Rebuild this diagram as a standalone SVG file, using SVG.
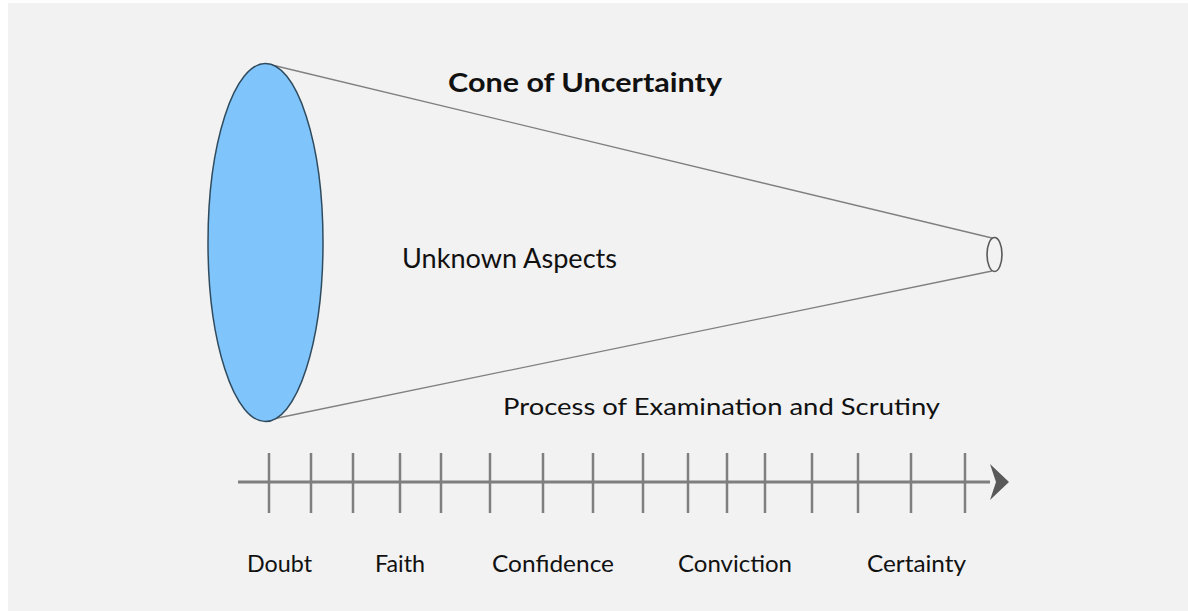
<svg xmlns="http://www.w3.org/2000/svg" width="1188" height="611" viewBox="0 0 1188 611">
  <style>
    .lbl { font-family: Lato, "Liberation Sans", sans-serif; fill: #111111; }
    .cone { stroke: #7f7f7f; stroke-width: 1.3; fill: none; }
    .tick { stroke: #7f7f7f; stroke-width: 2.5; }
  </style>
  <rect x="0" y="0" width="1188" height="611" fill="#ffffff"/>
  <rect x="8" y="3" width="1180" height="608" fill="#f2f2f2"/>

  <g id="connectors">
    <line class="cone" x1="272" y1="65" x2="992" y2="238"/>
    <line class="cone" x1="268" y1="420" x2="992" y2="271"/>
  </g>

  <g id="cone-base">
    <ellipse cx="265.5" cy="242.5" rx="57.5" ry="179" fill="#80c4fc" stroke="#2f4b5e" stroke-width="1.5"/>
  </g>
  <g id="cone-tip">
    <ellipse cx="994.5" cy="254.5" rx="7.5" ry="17" fill="#f2f2f2" stroke="#595959" stroke-width="1.6"/>
  </g>

  <g id="title">
    <text class="lbl" x="448" y="92" font-size="26.5" font-weight="bold" textLength="274" lengthAdjust="spacingAndGlyphs">Cone of Uncertainty</text>
  </g>
  <g id="unknown">
    <text class="lbl" x="402" y="268" font-size="27" textLength="215" lengthAdjust="spacingAndGlyphs">Unknown Aspects</text>
  </g>
  <g id="process">
    <text class="lbl" x="503" y="415" font-size="24" textLength="437" lengthAdjust="spacingAndGlyphs">Process of Examination and Scrutiny</text>
  </g>

  <g id="axis">
    <line x1="238" y1="482" x2="990" y2="482" stroke="#7f7f7f" stroke-width="3"/>
    <g class="tick">
      <line x1="269" y1="453" x2="269" y2="513"/>
      <line x1="311" y1="453" x2="311" y2="513"/>
      <line x1="353" y1="453" x2="353" y2="513"/>
      <line x1="400" y1="453" x2="400" y2="513"/>
      <line x1="441" y1="453" x2="441" y2="513"/>
      <line x1="490" y1="453" x2="490" y2="513"/>
      <line x1="543" y1="453" x2="543" y2="513"/>
      <line x1="593" y1="453" x2="593" y2="513"/>
      <line x1="643" y1="453" x2="643" y2="513"/>
      <line x1="688" y1="453" x2="688" y2="513"/>
      <line x1="727" y1="453" x2="727" y2="513"/>
      <line x1="765" y1="453" x2="765" y2="513"/>
      <line x1="812" y1="453" x2="812" y2="513"/>
      <line x1="858" y1="453" x2="858" y2="513"/>
      <line x1="911" y1="453" x2="911" y2="513"/>
      <line x1="965" y1="453" x2="965" y2="513"/>
    </g>
    <polygon points="990,464 1009,482 990,500 996,482" fill="#595959"/>
  </g>

  <g id="doubt"><text class="lbl" x="247" y="572" font-size="24" textLength="65" lengthAdjust="spacingAndGlyphs">Doubt</text></g>
  <g id="faith"><text class="lbl" x="375" y="572" font-size="24" textLength="50" lengthAdjust="spacingAndGlyphs">Faith</text></g>
  <g id="confidence"><text class="lbl" x="492" y="572" font-size="24" textLength="122" lengthAdjust="spacingAndGlyphs">Confidence</text></g>
  <g id="conviction"><text class="lbl" x="678" y="572" font-size="24" textLength="114" lengthAdjust="spacingAndGlyphs">Conviction</text></g>
  <g id="certainty"><text class="lbl" x="867" y="572" font-size="24" textLength="99" lengthAdjust="spacingAndGlyphs">Certainty</text></g>
</svg>
